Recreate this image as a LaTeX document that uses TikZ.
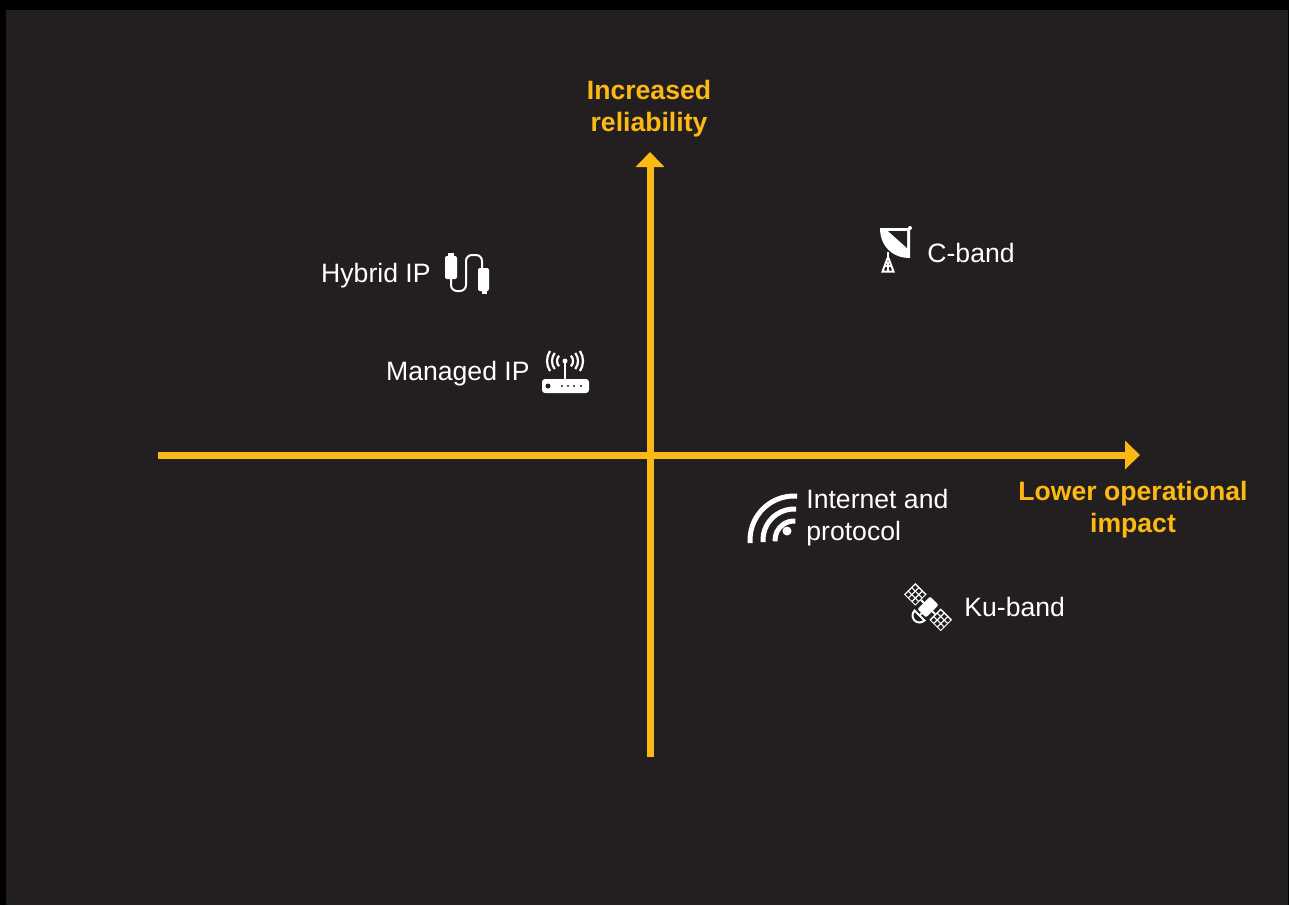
\documentclass[tikz,border=0pt]{standalone}
\usepackage{fontspec}
\setmainfont{Liberation Sans}
\usetikzlibrary{arrows.meta}
\definecolor{bgdark}{HTML}{231F20}
\definecolor{axisgold}{HTML}{FDB913}

\begin{document}
\begin{tikzpicture}[x=0.5pt, y=-0.5pt,
	axis/.style = {draw=axisgold, line width=3.5pt, -{Triangle[width=14pt, length=7.5pt]}},
	axislabel/.style = {text=axisgold, font=\bfseries\fontsize{13.3}{16}\selectfont, align=center, inner sep=0pt},
	itemlabel/.style = {text=white, font=\fontsize{13.3}{16}\selectfont, align=left, inner sep=0pt},
	icon/.style = {draw=white, line width=1pt}]
	% frame and background
	\fill[black] (0,0) rectangle (1289,905);
	\fill[bgdark] (6,10) rectangle (1288,905);
	\useasboundingbox (0,0) rectangle (1289,905);

	% axes
	\coordinate (Xstart) at (158,455);
	\coordinate (Xend)   at (1140,455);
	\coordinate (Ystart) at (650,757);
	\coordinate (Yend)   at (650,152);
	\draw[axis] (Xstart) -- (Xend);
	\draw[axis] (Ystart) -- (Yend);
	\node (REL) at (649,109)	[axislabel]	{Increased\\reliability};
	\node (IMP) at (1133,510)	[axislabel]	{Lower operational\\impact};

	% labels
	\node (CB) at (927,253)	[itemlabel, anchor=west]	{C-band};
	\node (HI) at (431,276)	[itemlabel, anchor=east]	{Hybrid IP};
	\node (MI) at (530,374)	[itemlabel, anchor=east]	{Managed IP};
	\node (IP) at (806,518)	[itemlabel, anchor=west]	{Internet and\\protocol};
	\node (KB) at (964,607)	[itemlabel, anchor=west]	{Ku-band};

	% C-band dish
	\fill[white] (910,258) .. controls (892,258) and (880,246) .. (880,228) -- (910,228) -- cycle;
	\fill[bgdark] (888,231) -- (907,231) -- (907,248) -- cycle;
	\fill[white] (910,228) circle[radius=2];
	\draw[icon] (888,252) -- (888,257);
	\draw[icon] (888,257) -- (882.5,271.5) -- (893.5,271.5) -- cycle;
	\draw[icon] (885,266) -- (891,266) (888,262) -- (888,271.5);

	% Hybrid IP cable
	\fill[white, rounded corners=1pt] (445,256) rectangle (457,279);
	\fill[white] (448,253) rectangle (454,257);
	\fill[white, rounded corners=1pt] (478,268) rectangle (489,291);
	\fill[white] (482,290) rectangle (487,294);
	\draw[icon, rounded corners=3pt] (451,279) -- (451,291) -- (466,291) -- (466,255) -- (482,255) -- (482,268);

	% Managed IP router
	\fill[white, rounded corners=1.5pt] (542,379) rectangle (589,393);
	\fill[bgdark] (548,386) circle[radius=2.5];
	\foreach \px in {562,568,574,581}
		\fill[bgdark] (\px,386) circle[radius=1.2];
	\draw[icon] (565,361) -- (565,379);
	\fill[white] (565,361) circle[radius=2.5];
	\foreach \r/\a in {8/42,13/38,18/34} {
		\draw[icon, line width=1.1pt] (565,361) ++(180-\a:\r) arc[start angle=180-\a, end angle=180+\a, radius=\r];
		\draw[icon, line width=1.1pt] (565,361) ++(-\a:\r) arc[start angle=-\a, end angle=\a, radius=\r];
	}

	% Internet waves
	\foreach \r in {19,31,44}
		\draw[icon, line width=2.5pt] (794,540) ++(176:\r) arc[start angle=176, end angle=274, radius=\r];
	\fill[white] (787,531) circle[radius=4.5];

	% Ku-band satellite
	\begin{scope}[shift={(928,607)}, rotate=-45]
		\draw[icon] (-10,0) -- (10,0);
		\foreach \sx in {-26,10} {
			\fill[white] (\sx,-8) rectangle ++(16,16);
			\foreach \i in {0,1,2}
				\foreach \j in {0,1,2}
					\fill[bgdark] (\sx+1.5+\i*5,-6.5+\j*5) rectangle ++(3.5,3.5);
		}
		\fill[white, rounded corners=1pt] (-6,-9) rectangle (6,9);
		\draw[icon] (0,9) -- (0,12);
		\draw[icon, fill=bgdark] (-7,12) arc[start angle=180, end angle=0, radius=7] -- cycle;
	\end{scope}
\end{tikzpicture}
\end{document}
